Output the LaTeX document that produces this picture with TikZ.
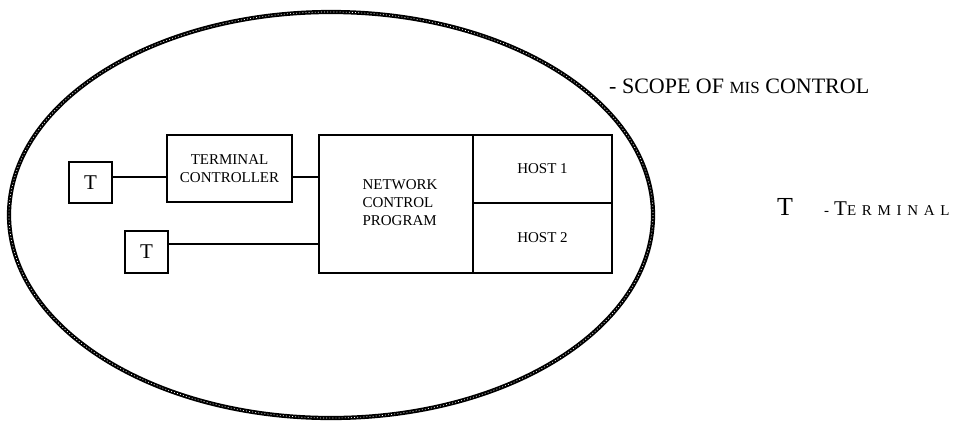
\documentclass[tikz,border=0pt]{standalone}
\usepackage{fontspec}
\setmainfont{Liberation Serif}
\usepackage{tikz}
\usetikzlibrary{positioning}
\usetikzlibrary{calc}
\tikzset{
  box_node/.style = {draw=black, line width=1.3pt, rectangle, inner sep=0pt,
    outer sep=0pt, align=center, font=\fontsize{15}{18}\selectfont},
  term_node/.style = {box_node, minimum width=43pt, minimum height=41pt,
    font=\fontsize{21}{21}\selectfont},
  host_node/.style = {box_node, minimum width=139pt},
  link/.style = {line width=1.4pt},
  scope_line/.style = {line width=4.2pt, black},
  scope_beads/.style = {line width=0.7pt, white, dash pattern=on 0.9pt off 2.2pt},
  key_text/.style = {anchor=base west, inner sep=0pt}
}

\begin{document}
\begin{tikzpicture}[x=1pt, y=-1pt]
  \useasboundingbox (0,0) rectangle (955,424);
  % scope of control
  \draw[scope_line] (331,215) ellipse [x radius=322, y radius=203];
  \draw[scope_beads] (331,215) ellipse [x radius=322, y radius=203];

  % boxes
  \node [term_node] (T1) at (90.5,182.5) {T};
  \node [box_node, minimum width=125pt, minimum height=67pt] (TC) at (229.5,168.5)
    {TERMINAL\\CONTROLLER};
  \node [box_node, minimum width=154pt, minimum height=138pt] (NCP) at (396,204)
    {\hspace*{8pt}\begin{tabular}{@{}l@{}}NETWORK\\CONTROL\\PROGRAM\end{tabular}};
  \node [host_node, minimum height=68pt, anchor=north west] (H1) at (NCP.north east) {HOST 1};
  \node [host_node, minimum height=70pt, below=0pt of H1] (H2) {HOST 2};
  \node [term_node, minimum height=42pt] (T2) at (146.5,252) {T};

  % links
  \draw [link] (T1.14) -- (T1.14 -| TC.west);
  \draw [link] (TC.east |- T1.14) -- (T1.14 -| NCP.west);
  \draw [link] (T2.20.4) -- (T2.20.4 -| NCP.west);

  % key
  \node [key_text, font=\fontsize{22}{22}\selectfont] (scope) at (609,93)
    {- SCOPE OF {\fontsize{17}{17}\selectfont MIS} CONTROL};
  \node [key_text, font=\fontsize{26}{26}\selectfont] (tkey) at (777,215) {T};
  \node [key_text, font=\fontsize{15}{15}\selectfont] (tname) at (824,215)
    {-\hspace{5pt}{\fontsize{21}{21}\selectfont T}{\addfontfeature{LetterSpace=38}ERMINAL}};
\end{tikzpicture}
\end{document}
